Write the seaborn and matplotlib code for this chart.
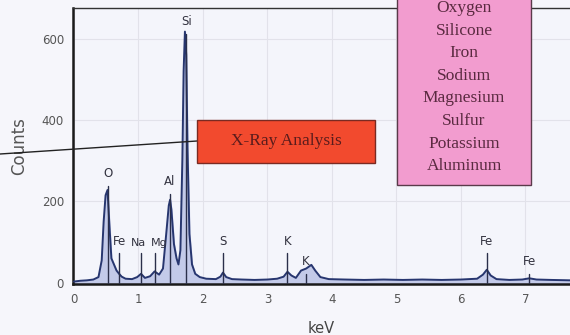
import numpy as np
import pandas as pd
import seaborn as sns
import matplotlib.pyplot as plt
from matplotlib.lines import Line2D
from matplotlib.patches import Rectangle
from matplotlib.ticker import MultipleLocator

# spectrum (keV, counts)
energy = [0.00, 0.10, 0.20, 0.30, 0.38, 0.43, 0.46, 0.49, 0.52, 0.55, 0.58, 0.62, 0.66, 0.70,
          0.74, 0.80, 0.90, 0.98, 1.04, 1.10, 1.18, 1.25, 1.32, 1.38, 1.43, 1.47, 1.49, 1.51,
          1.55, 1.59, 1.62, 1.65, 1.68, 1.70, 1.72, 1.74, 1.76, 1.79, 1.83, 1.88, 1.95, 2.05,
          2.20, 2.27, 2.31, 2.36, 2.45, 2.60, 2.80, 3.00, 3.15, 3.25, 3.31, 3.37, 3.44, 3.52,
          3.60, 3.68, 3.74, 3.82, 3.95, 4.20, 4.50, 4.80, 5.10, 5.40, 5.70, 6.00, 6.25, 6.34,
          6.40, 6.46, 6.55, 6.75, 6.95, 7.06, 7.17, 7.40, 7.70]
counts = [3, 5, 6, 8, 14, 55, 150, 215, 228, 140, 60, 45, 30, 22,
          15, 10, 9, 14, 22, 12, 16, 28, 20, 35, 120, 190, 204, 180,
          95, 60, 45, 80, 300, 520, 617, 560, 330, 120, 45, 22, 14, 10,
          9, 15, 25, 14, 9, 8, 7, 8, 10, 15, 27, 18, 12, 30,
          35, 44, 30, 14, 9, 8, 7, 8, 7, 8, 7, 8, 10, 20,
          32, 18, 9, 7, 8, 11, 8, 7, 6]
assert len(energy) == len(counts)

# element markers
elements = ["O", "Fe", "Na", "Mg", "Al", "Si", "S", "K", "K", "Fe", "Fe"]
line_kev = [0.52, 0.70, 1.04, 1.25, 1.49, 1.74, 2.31, 3.31, 3.59, 6.40, 7.06]
marker_top = [238, 72, 72, 72, 218, 612, 72, 72, 22, 72, 22]

legend_lines = ["Oxygen", "Silicone", "Iron", "Sodium", "Magnesium", "Sulfur", "Potassium", "Aluminum"]

df = pd.DataFrame({"keV": energy, "Counts": counts})

sns.set_style("white")
plt.rcParams['font.family'] = ['DejaVu Sans']

fig = plt.figure(figsize=(5.7, 3.35), dpi=100)
fig.patch.set_facecolor('#f6f6fb')
ax = fig.add_axes([73/570, 1-284/335, 497/570, 276/335])
ax.set_facecolor('#f4f5fb')

ax.fill_between(df["keV"], 0, df["Counts"], color='#c3cae9', zorder=2)
sns.lineplot(ax=ax, data=df, x="keV", y="Counts", color='#27366f', linewidth=1.4,
             estimator=None, sort=False, zorder=3)

# crowded labels (Fe, Na, Mg) get a little nudge so they don't collide
nudge = {2: -2, 3: 3}
for i, (el, e, top) in enumerate(zip(elements, line_kev, marker_top)):
    ax.plot([e, e], [0, top], color='#2a2f4a', linewidth=1.0, zorder=4)
    ax.annotate(el, xy=(e, top), xytext=(nudge.get(i, 0), 4), textcoords='offset points',
                ha='center', va='bottom', fontsize=8 if i in nudge else 8.5,
                color='#333340', zorder=5)

ax.set_xlim(-0.015, 7.69)
ax.set_ylim(-3, 675)
ax.xaxis.set_major_locator(MultipleLocator(1))
ax.xaxis.set_minor_locator(MultipleLocator(0.25))
ax.yaxis.set_major_locator(MultipleLocator(200))
ax.yaxis.set_minor_locator(MultipleLocator(50))
ax.grid(True, which='major', color='#e2e2ea', linewidth=0.8, zorder=0)
ax.tick_params(which='major', direction='out', length=3.5, width=1, color='#222222',
               labelsize=8.5, labelcolor='#555555', pad=3)
ax.tick_params(which='minor', direction='out', length=2, width=0.8, color='#444444')
for s in ['left', 'bottom']:
    ax.spines[s].set_color('#1a1a1a')
    ax.spines[s].set_linewidth(1.8)
ax.spines['top'].set_color('#333333')
ax.spines['top'].set_linewidth(1.0)
ax.spines['right'].set_visible(False)
ax.set_xlabel('keV', fontsize=10.5, color='#444444', labelpad=11)
ax.set_ylabel('Counts', fontsize=12, color='#555555', labelpad=10)

# callout line and boxes
fig.add_artist(Line2D([0, 197/570], [1-154/335, 1-141/335], color='#222222', linewidth=1.0,
                      transform=fig.transFigure, zorder=6))
fig.add_artist(Rectangle((197/570, 1-163/335), 178/570, 43/335, transform=fig.transFigure,
                         facecolor='#f24a2e', edgecolor='#7a2a22', linewidth=1.0, zorder=7))
fig.text(286/570, 1-141/335, "X-Ray Analysis", ha='center', va='center', fontsize=12.5,
         family='Liberation Serif', color='#5a1c1c', zorder=8)

fig.add_artist(Rectangle((397/570, 1-185/335), 134/570, 190/335, transform=fig.transFigure,
                         facecolor='#f29ccf', edgecolor='#5a3a4a', linewidth=1.0, zorder=7))
for i, name in enumerate(legend_lines):
    fig.text(464/570, 1-(8 + i*22.6)/335, name, ha='center', va='center', fontsize=12.5,
             family='Liberation Serif', color='#5a2a40', zorder=8)

fig.savefig('out.png', dpi=100, facecolor=fig.get_facecolor())
